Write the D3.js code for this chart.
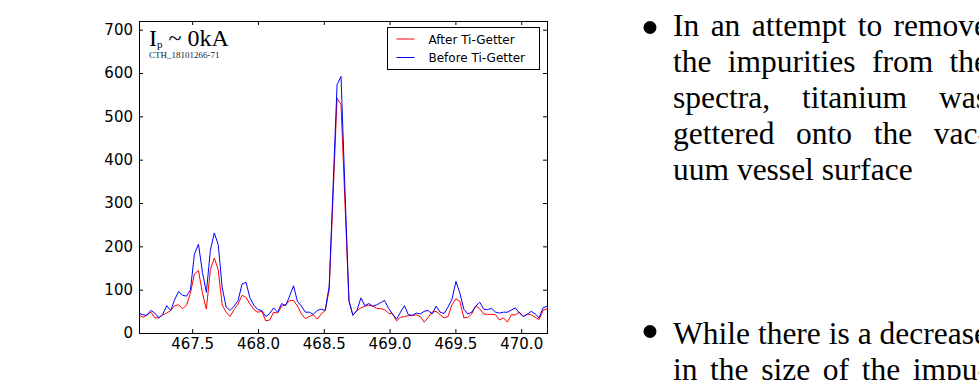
<!DOCTYPE html>
<html>
<head>
<meta charset="utf-8">
<title>Ti-Getter spectra</title>
<script src="https://d3js.org/d3.v7.min.js"></script>
<style>
  body { margin: 0; width: 979px; height: 380px; overflow: hidden; background: #fff; position: relative; }
  svg { position: absolute; left: 0; top: 0; }
  .axis text { font-family: "DejaVu Sans", sans-serif; font-size: 15px; fill: #000; }
  .axis line { stroke: #000; }
  .axis path { display: none; }
  .notes { position: absolute; left: 673px; font-family: "Liberation Serif", serif; font-size: 31.5px; line-height: 36px; color: #000; }
  .notes div { width: 315px; text-align: justify; text-align-last: justify; white-space: nowrap; }
  .notes div.last { text-align: left; text-align-last: left; }
</style>
</head>
<body>
<script>
// wavelength (nm)
const wavelength = [
  467.096, 467.126, 467.156, 467.186, 467.216, 467.247, 467.277, 467.307, 467.337, 467.367,
  467.397, 467.427, 467.457, 467.487, 467.517, 467.548, 467.578, 467.608, 467.638, 467.668,
  467.698, 467.728, 467.758, 467.788, 467.818, 467.849, 467.879, 467.909, 467.939, 467.969,
  467.999, 468.029, 468.059, 468.089, 468.119, 468.150, 468.180, 468.210, 468.240, 468.270,
  468.300, 468.330, 468.360, 468.390, 468.420, 468.451, 468.481, 468.511, 468.541, 468.571,
  468.601, 468.631, 468.661, 468.691, 468.721, 468.752, 468.782, 468.812, 468.842, 468.872,
  468.902, 468.932, 468.962, 468.992, 469.022, 469.053, 469.083, 469.113, 469.143, 469.173,
  469.203, 469.233, 469.263, 469.293, 469.323, 469.354, 469.384, 469.414, 469.444, 469.474,
  469.504, 469.534, 469.564, 469.594, 469.624, 469.655, 469.685, 469.715, 469.745, 469.775,
  469.805, 469.835, 469.865, 469.895, 469.925, 469.956, 469.986, 470.016, 470.046, 470.076,
  470.106, 470.136, 470.166, 470.196
];

// counts after gettering
const afterGetter = [
  42, 36, 41, 48, 35, 35, 42, 46, 52, 63,
  65, 56, 64, 92, 136, 144, 92, 55, 146, 173,
  146, 65, 48, 38, 54, 67, 87, 82, 67, 54,
  48, 50, 28, 30, 48, 46, 62, 65, 75, 75,
  62, 44, 33, 38, 42, 32, 44, 52, 100, 320,
  542, 527, 300, 75, 41, 52, 58, 62, 64, 62,
  57, 56, 54, 46, 44, 28, 36, 38, 40, 40,
  42, 38, 25, 36, 48, 50, 42, 35, 38, 65,
  79, 73, 35, 36, 44, 63, 56, 44, 43, 43,
  42, 30, 35, 25, 42, 42, 48, 38, 44, 42,
  36, 31, 52, 56
];

// counts before gettering
const beforeGetter = [
  46, 42, 41, 52, 46, 35, 44, 63, 52, 77,
  96, 87, 85, 100, 182, 205, 140, 94, 190, 231,
  204, 105, 60, 52, 62, 75, 113, 117, 81, 64,
  54, 52, 38, 45, 58, 48, 68, 63, 85, 109,
  73, 62, 48, 48, 43, 52, 55, 52, 108, 340,
  573, 592, 330, 75, 41, 52, 81, 63, 68, 62,
  65, 70, 75, 57, 44, 32, 48, 63, 42, 41,
  46, 44, 50, 52, 44, 62, 48, 45, 60, 78,
  119, 92, 55, 44, 48, 62, 71, 55, 54, 57,
  48, 46, 48, 48, 53, 58, 46, 38, 43, 50,
  44, 35, 58, 62
];

const seriesNames = ["After Ti-Getter", "Before Ti-Getter"];
const xTicks = [467.5, 468.0, 468.5, 469.0, 469.5, 470.0];
const yTicks = [0, 100, 200, 300, 400, 500, 600, 700];

const noteTop = ["In an attempt to remove", "the impurities from the", "spectra, titanium was",
                 "gettered onto the vac-", "uum vessel surface"];
const noteBottom = ["While there is a decrease", "in the size of the impu-"];

let W = 979, H = 380;
let margin = { top: 21, left: 139 },
    width = 408,
    height = 312;

let svg = d3.select("body").append("svg")
    .attr("width", W)
    .attr("height", H);

let g = svg.append("g")
    .attr("transform", "translate(" + margin.left + "," + margin.top + ")");

let x = d3.scaleLinear()
    .domain([wavelength[0], wavelength[wavelength.length - 1]])
    .range([0, width]);

let y = d3.scaleLinear()
    .domain([0, 720])
    .range([height, 0]);

// axes, ticks pointing inwards on all four sides
g.append("g").attr("class", "axis")
    .attr("transform", "translate(0," + height + ")")
    .call(d3.axisBottom(x).tickValues(xTicks).tickFormat(d3.format(".1f"))
        .tickSize(-4).tickSizeOuter(0).tickPadding(5));
g.append("g").attr("class", "axis")
    .call(d3.axisTop(x).tickValues(xTicks).tickFormat("").tickSize(-4).tickSizeOuter(0));
g.append("g").attr("class", "axis")
    .call(d3.axisLeft(y).tickValues(yTicks).tickSize(-4).tickSizeOuter(0).tickPadding(6));
g.append("g").attr("class", "axis")
    .attr("transform", "translate(" + width + ",0)")
    .call(d3.axisRight(y).tickValues(yTicks).tickFormat("").tickSize(-4).tickSizeOuter(0));

let line = d3.line()
    .x(function(d, i){ return x(wavelength[i]); })
    .y(function(d){ return y(d); });

let series = [
  { name: seriesNames[0], values: afterGetter, color: "#ff0000" },
  { name: seriesNames[1], values: beforeGetter, color: "#0000ff" }
];

g.selectAll(".series")
    .data(series).enter()
    .append("path")
    .attr("class", "series")
    .attr("d", function(d){ return line(d.values); })
    .attr("fill", "none")
    .attr("stroke", function(d){ return d.color; })
    .attr("stroke-width", 1);

// frame
g.append("rect")
    .attr("x", 0.5).attr("y", 0.5)
    .attr("width", width).attr("height", height)
    .attr("fill", "none").attr("stroke", "#000");

// legend
let leg = g.append("g").attr("transform", "translate(248.5,6.5)");
leg.append("rect")
    .attr("width", 152).attr("height", 42)
    .attr("fill", "#fff").attr("stroke", "#000");
let items = leg.selectAll(".item")
    .data(series).enter()
    .append("g")
    .attr("transform", function(d, i){ return "translate(0," + (11.5 + i * 18.5) + ")"; });
items.append("line")
    .attr("x1", 9).attr("x2", 27)
    .attr("stroke", function(d){ return d.color; });
items.append("text")
    .attr("x", 41).attr("y", 4.5)
    .style("font-family", "DejaVu Sans, sans-serif")
    .style("font-size", "12px")
    .text(function(d){ return d.name; });

// plasma current annotation
let ann = g.append("text")
    .attr("x", 10).attr("y", 25)
    .style("font-family", "Liberation Serif, serif")
    .style("font-size", "24px");
ann.append("tspan").text("I");
ann.append("tspan").attr("dy", 2).style("font-size", "11px").text("p");
ann.append("tspan").attr("dy", -2).text(" ~ 0kA");
g.append("text")
    .attr("x", 10).attr("y", 36.5)
    .style("font-family", "Liberation Serif, serif")
    .style("font-size", "9px")
    .style("fill", "#222")
    .text("CTH_18101266-71");

// bullets on the right
svg.append("circle").attr("cx", 650).attr("cy", 27.5).attr("r", 6.5).attr("fill", "#000");
svg.append("circle").attr("cx", 650).attr("cy", 331.5).attr("r", 6.5).attr("fill", "#000");

function addNote(lines, top) {
  let box = d3.select("body").append("div")
      .attr("class", "notes")
      .style("top", top + "px");
  box.selectAll("div")
      .data(lines).enter()
      .append("div")
      .attr("class", function(d, i){ return (lines === noteTop && i === lines.length - 1) ? "last" : null; })
      .text(function(d){ return d; });
}
addNote(noteTop, 8);
addNote(noteBottom, 316);
</script>
</body>
</html>
